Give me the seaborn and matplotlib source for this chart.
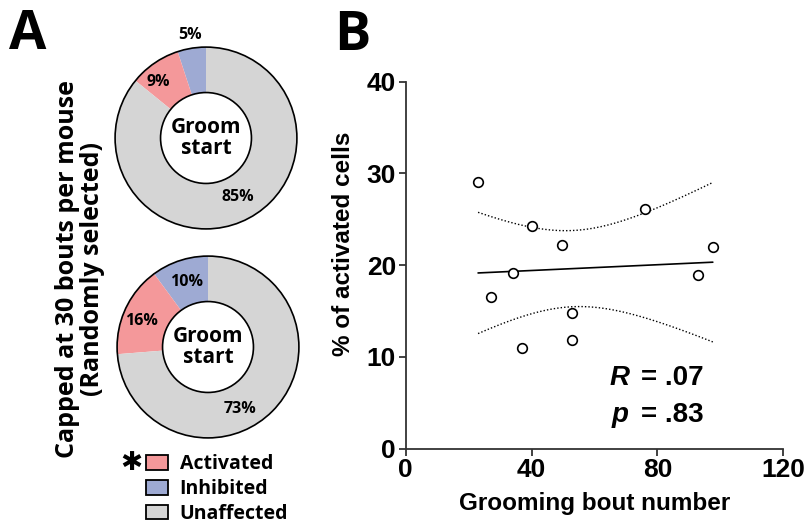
import numpy as np
import pandas as pd
import seaborn as sns
import matplotlib.pyplot as plt
from matplotlib.patches import Patch, Circle

# ---- data ----
states = ['Inhibited', 'Activated', 'Unaffected']
top_pct = [5, 9, 85]       # all bouts capped at 30, first draw
bottom_pct = [10, 16, 73]
state_colors = {'Activated': '#f4989a', 'Inhibited': '#9eaad3', 'Unaffected': '#d5d5d5'}

bout_number = [23.0, 40.1, 49.8, 76.0, 97.6, 34.1, 92.8, 27.0, 52.9, 37.0, 52.9]
pct_activated = [29.1, 24.3, 22.2, 26.1, 22.0, 19.2, 18.9, 16.5, 14.8, 11.0, 11.8]
r_label = '.07'
p_label = '.83'

W, H = 806, 523
sns.set_style('white', rc={'text.color': 'black', 'axes.labelcolor': 'black',
                           'xtick.color': 'black', 'ytick.color': 'black'})
fig = plt.figure(figsize=(W / 100, H / 100), dpi=100)

fontA = 'Open Sans'
fontB = 'Liberation Sans'


def px_axes(cx, cy, size):
    # axes centred on a pixel position (y measured from top)
    return fig.add_axes([(cx - size / 2) / W, (H - cy - size / 2) / H, size / W, size / H])


def donut(ax, values, label_pos):
    cols = [state_colors[s] for s in states]
    ax.pie(values, colors=cols, startangle=90, counterclock=True, radius=1,
           wedgeprops=dict(width=0.5, linewidth=0))
    ax.add_patch(Circle((0, 0), 1, fill=False, ec='black', lw=1.2))
    ax.add_patch(Circle((0, 0), 0.5, fc='white', ec='black', lw=1.2))
    ax.text(0, 0, 'Groom\nstart', ha='center', va='center', fontsize=15,
            fontweight='bold', family=fontA, linespacing=1.05)
    for v, (x, y) in zip(values, label_pos):
        ax.text(x, y, f'{v}%', ha='center', va='center', fontsize=11.5,
                fontweight='bold', family=fontA)
    ax.set_xlim(-1.1, 1.1)
    ax.set_ylim(-1.1, 1.1)
    ax.set_aspect('equal')
    ax.axis('off')


ax_top = px_axes(206, 138, 200)
donut(ax_top, top_pct, [(-0.18, 1.13), (-0.53, 0.62), (0.35, -0.65)])
ax_bot = px_axes(208, 347, 200)
donut(ax_bot, bottom_pct, [(-0.24, 0.72), (-0.73, 0.29), (0.35, -0.68)])

fig.text(9 / W, 1 - 35 / H, 'A', fontsize=39, fontweight='bold', family=fontA, va='center')
fig.text(80 / W, 1 - 269 / H, 'Capped at 30 bouts per mouse\n(Randomly selected)',
         rotation=90, ha='center', va='center', fontsize=18, fontweight='bold',
         family=fontA, linespacing=1.0)

handles = [Patch(fc=state_colors[s], ec='black', lw=1.3) for s in ['Activated', 'Inhibited', 'Unaffected']]
fig.legend(handles, ['Activated', 'Inhibited', 'Unaffected'], loc='upper left',
           bbox_to_anchor=(146 / W, 1 - 454 / H), frameon=False,
           prop=dict(family=fontA, weight='bold', size=14),
           handlelength=1.13, handleheight=0.8, handletextpad=0.6, labelspacing=0.25,
           borderpad=0, borderaxespad=0)
fig.text(131 / W, 1 - 463 / H, '\u2731', fontsize=19, ha='center', va='center',
         family='DejaVu Sans')

# ---- panel B ----
ax = fig.add_axes([405.7 / W, (H - 448.7) / H, 377.6 / W, 367 / H])
df = pd.DataFrame({'bouts': bout_number, 'pct': pct_activated})
sns.regplot(data=df, x='bouts', y='pct', ax=ax, ci=None, truncate=True,
            scatter_kws=dict(s=48, facecolors='white', edgecolors='black', linewidths=1.2, alpha=1, zorder=3),
            line_kws=dict(color='black', lw=1.2))

# 95% confidence band of the fit (t, df = 9)
x = df['bouts'].to_numpy()
y = df['pct'].to_numpy()
n = len(x)
slope, icpt = np.polyfit(x, y, 1)
resid = y - (slope * x + icpt)
s = np.sqrt((resid ** 2).sum() / (n - 2))
sxx = ((x - x.mean()) ** 2).sum()
xs = np.linspace(x.min(), x.max(), 200)
half = 2.262 * s * np.sqrt(1 / n + (xs - x.mean()) ** 2 / sxx)
fit = slope * xs + icpt
ax.plot(xs, fit + half, color='black', lw=1.0, ls=(0, (1, 1.5)))
ax.plot(xs, fit - half, color='black', lw=1.0, ls=(0, (1, 1.5)))

ax.set_xlim(0, 120)
ax.set_ylim(0, 40)
ax.set_xticks([0, 40, 80, 120])
ax.set_yticks([0, 10, 20, 30, 40])
sns.despine(ax=ax)
for sp in ['left', 'bottom']:
    ax.spines[sp].set_linewidth(1.3)
    ax.spines[sp].set_color('#333333')
ax.tick_params(direction='out', length=5, width=1.3, color='#333333', left=True, bottom=True, pad=2)
for lab in ax.get_xticklabels() + ax.get_yticklabels():
    lab.set_fontsize(19)
    lab.set_fontweight('bold')
    lab.set_family(fontB)
ax.set_xlabel('Grooming bout number', fontsize=17.5, fontweight='bold', family=fontB, labelpad=7)
ax.set_ylabel('% of activated cells', fontsize=17.5, fontweight='bold', family=fontB)
ax.yaxis.set_label_coords(-0.134, 1 - (244 - 81.7) / 367)

tb = dict(fontsize=20, fontweight='bold', family=fontB, va='center', transform=ax.transAxes)
y1 = 1 - (378 - 81.7) / 367
y2 = 1 - (415 - 81.7) / 367
ax.text(0.541, y1, 'R', style='italic', **tb)
ax.text(0.622, y1, '= ' + r_label, **tb)
ax.text(0.545, y2, 'p', style='italic', **tb)
ax.text(0.622, y2, '= ' + p_label, **tb)

fig.text(334 / W, 1 - 36 / H, 'B', fontsize=39, fontweight='bold', family=fontA, va='center')

fig.savefig('out.png', dpi=100)
